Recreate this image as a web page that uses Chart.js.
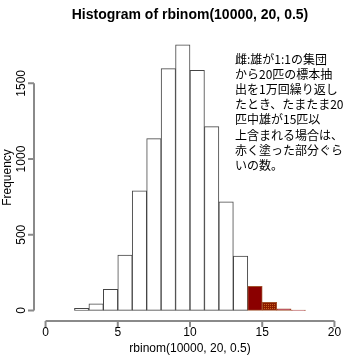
<!DOCTYPE html>
<html><head><meta charset="utf-8">
<script src="https://cdn.jsdelivr.net/npm/chart.js@4/dist/chart.umd.min.js"></script>
<style>html,body{margin:0;padding:0;background:#fff}canvas{display:block}</style>
</head><body>
<canvas id="c" width="356" height="357"></canvas>
<script>
// ---- data ----
const binStarts = [2,3,4,5,6,7,8,9,10,11,12,13,14,15,16,17];
const counts    = [13,44,139,366,790,1135,1597,1754,1586,1214,718,359,159,53,10,2];
const highlightFrom = 14;           // bins starting at 14 or more are painted red
const xTicks = [0,5,10,15,20];
const yTicks = [0,500,1000,1500];
const titleText = 'Histogram of rbinom(10000, 20, 0.5)';
const xTitle = 'rbinom(10000, 20, 0.5)';
const yTitle = 'Frequency';
const noteLines = [
  '雌:雄が1:1の集団',
  'から20匹の標本抽',
  '出を1万回繰り返し',
  'たとき、たまたま20',
  '匹中雄が15匹以',
  '上含まれる場合は、',
  '赤く塗った部分ぐら',
  'いの数。'
];

// dotted fill for the second red bin
function makePattern(){
  const p = document.createElement('canvas'); p.width = 2; p.height = 2;
  const g = p.getContext('2d');
  g.fillStyle = '#8b1a00'; g.fillRect(0,0,2,2);
  g.fillStyle = '#c8641e'; g.fillRect(0,0,1,1);
  return g.createPattern(p,'repeat');
}
const pat = makePattern();

const bg = binStarts.map((s,i)=> s < highlightFrom ? '#ffffff' : (s === highlightFrom ? '#8b0000' : (s === highlightFrom+1 ? pat : '#b03040')));
const bc = binStarts.map(s=> s < highlightFrom ? '#454545' : '#a0522d');

const SANS = '"Liberation Sans", Arial, Helvetica, sans-serif';

const axesPlugin = {
  id: 'rAxes',
  afterDraw(chart){
    const ctx = chart.ctx, xs = chart.scales.x, ys = chart.scales.y, ca = chart.chartArea;
    ctx.save();
    ctx.strokeStyle = '#8a8a8a'; ctx.lineWidth = 2;
    // x axis
    const yb = ca.bottom;
    ctx.beginPath();
    ctx.moveTo(xs.getPixelForValue(xTicks[0]), yb);
    ctx.lineTo(xs.getPixelForValue(xTicks[xTicks.length-1]), yb);
    xTicks.forEach(v=>{ const px = xs.getPixelForValue(v); ctx.moveTo(px, yb); ctx.lineTo(px, yb+6); });
    ctx.stroke();
    // y axis
    const xl = ca.left;
    ctx.beginPath();
    ctx.moveTo(xl, ys.getPixelForValue(yTicks[0]));
    ctx.lineTo(xl, ys.getPixelForValue(yTicks[yTicks.length-1]));
    yTicks.forEach(v=>{ const py = ys.getPixelForValue(v); ctx.moveTo(xl, py); ctx.lineTo(xl-6, py); });
    ctx.stroke();
    // tick labels
    ctx.fillStyle = '#000';
    ctx.font = '12px ' + SANS;
    ctx.textAlign = 'center'; ctx.textBaseline = 'middle';
    xTicks.forEach(v=> ctx.fillText(String(v), xs.getPixelForValue(v), 333));
    yTicks.forEach(v=>{
      ctx.save(); ctx.translate(22, ys.getPixelForValue(v)); ctx.rotate(-Math.PI/2);
      ctx.fillText(String(v), 0, 0); ctx.restore();
    });
    // axis titles
    ctx.fillText(xTitle, (ca.left+ca.right)/2, 349);
    ctx.save(); ctx.translate(8, (ca.top+ca.bottom)/2); ctx.rotate(-Math.PI/2);
    ctx.fillText(yTitle, 0, 0); ctx.restore();
    // main title
    ctx.font = 'bold 14px ' + SANS;
    ctx.fillText(titleText, (ca.left+ca.right)/2, 15);
    // note
    ctx.font = '12px "Noto Sans CJK JP", sans-serif';
    ctx.textAlign = 'left';
    noteLines.forEach((t,i)=> ctx.fillText(t, 235, 59.5 + i*15.1));
    ctx.restore();
  }
};

new Chart(document.getElementById('c'), {
  type: 'bar',
  data: {
    datasets: [{
      data: binStarts.map((s,i)=>({x: s+0.5, y: counts[i]})),
      backgroundColor: bg,
      borderColor: bc,
      borderWidth: 1,
      borderSkipped: false,
      barPercentage: 1,
      categoryPercentage: 1
    }]
  },
  options: {
    responsive: false,
    animation: false,
    devicePixelRatio: 1,
    layout: { padding: { left: 34, right: 10, top: 34, bottom: 36 } },
    plugins: { legend: { display: false }, tooltip: { enabled: false }, title: { display: false } },
    scales: {
      x: { type: 'linear', min: -0.8, max: 20.8, display: false, offset: false,
           grid: { offset: false },
           ticks: { includeBounds: false },
           afterBuildTicks: s => { s.ticks = xTicks.map(v=>({value:v})); } },
      y: { type: 'linear', min: -70, max: 1826, display: false,
           ticks: { includeBounds: false },
           afterBuildTicks: s => { s.ticks = yTicks.map(v=>({value:v})); } }
    }
  },
  plugins: [axesPlugin]
});
</script>
</body></html>
